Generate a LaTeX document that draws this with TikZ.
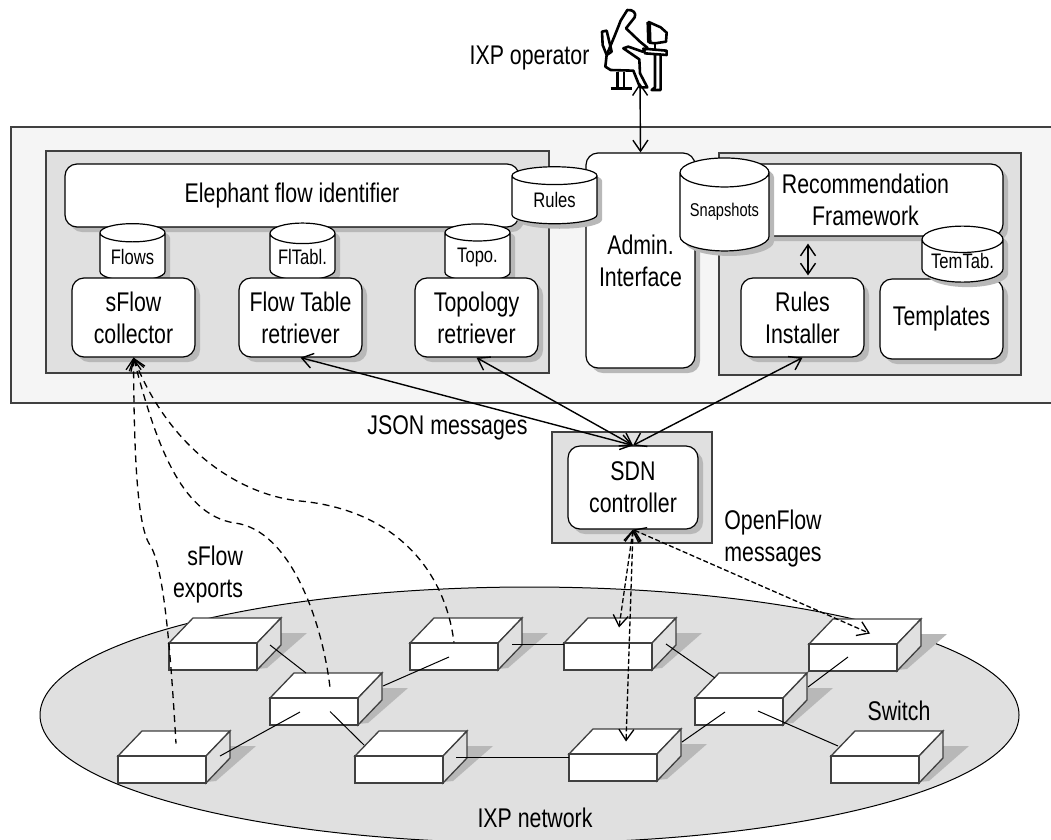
\documentclass[tikz,border=0pt]{standalone}
\usepackage{fontspec}
\setmainfont[FakeStretch=0.79]{Liberation Sans}
\usetikzlibrary{calc}
\usetikzlibrary{positioning,arrows.meta}
\usetikzlibrary{shapes.geometric,shadows}
\definecolor{panelgray}{HTML}{E0E0E0}
\definecolor{outergray}{HTML}{F5F5F5}
\definecolor{shadowgray}{HTML}{B8B8B8}
\definecolor{edgegray}{HTML}{404040}
\tikzset{
  lab/.style = {font=\fontsize{27}{32}\selectfont,align=center,inner sep=0pt},
  panel/.style = {draw=edgegray,fill=panelgray,line width=1.2pt,minimum width=#1},
  mod/.style = {draw=black,fill=white,line width=1.2pt,rounded corners=12pt,
    drop shadow={shadow xshift=5pt,shadow yshift=-5pt,fill=shadowgray,opacity=1}},
  db/.style = {cylinder,shape border rotate=90,draw=black,fill=white,line width=1.2pt,
    inner sep=0pt,font=\fontsize{21}{24}\selectfont,
    drop shadow={shadow xshift=5pt,shadow yshift=-5pt,fill=shadowgray,opacity=1}},
  front/.style = {draw=edgegray,fill=white,line width=1.3pt,minimum width=88pt,minimum height=27pt,inner sep=0pt},
  link/.style = {line width=1pt},
  bar/.style = {line width=1.4pt,{Straight Barb[length=11pt,width=15pt]}-{Straight Barb[length=11pt,width=15pt]}},
  sf/.style = {line width=1.3pt,dash pattern=on 7pt off 5pt,{Straight Barb[length=11pt,width=15pt]}-},
  of/.style = {line width=1.3pt,dash pattern=on 5pt off 2.5pt,{Straight Barb[length=11pt,width=15pt]}-{Straight Barb[length=11pt,width=15pt]}}
}
\begin{document}
\begin{tikzpicture}[x=1pt,y=-1pt]
\useasboundingbox (0,0) rectangle (1051,839);
\clip (0,0) rectangle (1051,839);
% outer frame and panels
\node[draw=edgegray,fill=outergray,line width=1.2pt,minimum width=1060pt,minimum height=276pt,inner sep=0pt] (Frame) at (541,265) {};
\node[panel=503pt,minimum height=222pt,inner sep=0pt] (Left) at (297.5,262) {};
\node[panel=302pt,minimum height=222pt,inner sep=0pt] (Right) at (870,264) {};
% elephant flow part
\node[mod,minimum width=454pt,minimum height=63pt,inner sep=0pt,lab] (Elef) at (292,195.5) {Elephant flow identifier};
\node[db,minimum width=65pt,minimum height=57pt,aspect=.42] (Flows) at (132.5,257) {Flows};
\node[db,minimum width=65pt,minimum height=57pt,aspect=.42] (FlTabl) at (302.5,257) {FlTabl.};
\node[db,minimum width=65pt,minimum height=57pt,aspect=.42] (Topo) at (477.5,257) {Topo.};
\node[mod,minimum width=123pt,minimum height=79pt,inner sep=0pt,lab] (Coll) at (133.5,317.5) {sFlow\\collector};
\node[mod,minimum width=123pt,minimum height=79pt,inner sep=0pt,lab] (FlowRet) at (300.5,317.5) {Flow Table\\retriever};
\node[mod,minimum width=123pt,minimum height=79pt,inner sep=0pt,lab] (TopoRet) at (476.5,317.5) {Topology\\retriever};
% admin and recommendation part
\node[mod,minimum width=109pt,minimum height=215pt,inner sep=0pt,lab] (Admin) at (640.5,260.5) {Admin.\\Interface};
\node[db,minimum width=85pt,minimum height=57pt,aspect=.42] (Rules) at (554.5,200) {Rules};
\node[mod,minimum width=263pt,minimum height=72pt,inner sep=0pt,lab,text width=240pt] (Recom) at (871.5,200) {\hspace*{-12pt}Recommendation\\\hspace*{-12pt}Framework};
\node[db,minimum width=89pt,minimum height=93pt,aspect=.42,font=\fontsize{18.5}{20}\selectfont] (Snap) at (724.5,212) {Snapshots};
\node[mod,minimum width=123pt,minimum height=79pt,inner sep=0pt,lab] (Inst) at (802.5,317.5) {Rules\\Installer};
\node[mod,minimum width=123pt,minimum height=80pt,inner sep=0pt,lab] (Templ) at (941.5,319) {Templates};
\node[db,minimum width=81pt,minimum height=56pt,aspect=.42] (TemTab) at (962.5,261) {TemTab.};
\draw[bar] ($(Recom.south)+(-63.5,7)$) -- ($(Inst.north)+(5.5,-2)$);
% controller
\node[panel=160pt,minimum height=111pt,inner sep=0pt] (Ctrl) at (632,487.5) {};
\node[mod,minimum width=130pt,minimum height=83pt,inner sep=0pt,lab] (SDN) at (633,487.5) {SDN\\controller};
% network
\node[ellipse,draw=black,fill=panelgray,line width=1pt,minimum width=979pt,minimum height=256pt,inner sep=0pt] (Net) at (529.5,715) {};
\foreach \nm/\px/\py in {SwA/169/643,SwB/270/698,SwC/410/643,SwD/118/756,SwE/355/756,SwF/564/643,SwG/695/698,SwH/569/754,SwI/809/644,SwJ/831/756}{
  \fill[shadowgray] (\px+112,\py-10) -- (\px+138,\py-10) -- (\px+98,\py+25) -- (\px+88,\py+26) -- cycle;
  \draw[edgegray,fill=white,line width=1.3pt] (\px,\py) -- (\px+24,\py-25) -- (\px+112,\py-25) -- (\px+88,\py) -- cycle;
  \draw[edgegray,fill=panelgray,line width=1.3pt] (\px+88,\py) -- (\px+112,\py-25) -- (\px+112,\py+2) -- (\px+88,\py+27) -- cycle;
  \node[front] (\nm) at (\px+44,\py+13.5) {};
}
\draw[link] ($(SwA)+(57,-11.5)$) -- ($(SwB)+(-8,-38.5)$);
\draw[link] ($(SwD)+(58,-13.5)$) -- ($(SwB)+(-14,.5)$);
\draw[link] ($(SwB)+(16,0)$) -- ($(SwE)+(-35,-24.5)$);
\draw[link] ($(SwB)+(69,-25.5)$) -- ($(SwC)+(-5,.5)$);
\draw[link] ($(SwC)+(58,-12)$) -- ($(SwF)+(-44,-12)$);
\draw[link] ($(SwE)+(57,-12)$) -- ($(SwH)+(-44,-10)$);
\draw[link] ($(SwF)+(58,-12.5)$) -- ($(SwG)+(-24,-33.5)$);
\draw[link] ($(SwH)+(69,-25.5)$) -- ($(SwG)+(-14,.5)$);
\draw[link] ($(SwG)+(19,-.5)$) -- ($(SwJ)+(-37,-23.5)$);
\draw[link] ($(SwG)+(69,-24.5)$) -- ($(SwI)+(-5,-.5)$);
% operator figure
\begin{scope}[shift={(540,0)},x=.3333pt,y=-.3333pt,line width=2.6pt,line join=round]
\draw (262,30) .. controls (280,28) and (290,40) .. (284,52) -- (258,85) -- (300,125) -- (322,143) -- (308,155) -- (265,140) -- (250,145) -- (298,178) -- (300,220) -- (322,262) -- (300,262) -- (280,212) -- (212,210) -- (196,200) -- (200,165) -- (225,105) -- (242,62) -- cycle;
\draw (200,165) -- (215,155) -- (200,92) -- (186,95) -- (188,135) -- (200,165);
\draw (232,215) -- (232,262) (252,215) -- (252,262) (212,266) -- (275,266);
\draw (326,66) -- (362,82) -- (380,98) -- (378,125) -- (345,130) -- (328,128) -- cycle;
\draw[line width=4.5pt] (326,66) -- (328,128);
\draw (345,130) -- (345,146);
\draw (310,146) -- (380,152) -- (380,165) -- (315,160) -- cycle;
\draw (345,165) -- (345,262) -- (335,270) -- (362,270) -- (362,165);
\end{scope}
\node[minimum width=66pt,minimum height=73pt,inner sep=0pt] (Oper) at (640,46.5) {};
% connectors
\draw[bar] (Oper.south) -- (Admin.north);
\draw[bar] (FlowRet.south) -- (SDN.north);
\draw[bar] (TopoRet.south) -- (SDN.north);
\draw[bar] (Inst.south) -- (SDN.north);
\draw[sf] (Coll.south) .. controls (134,440) and (136,525) .. (150,545) .. controls (163,565) and (170,640) .. ($(SwD)+(14,-26)$);
\draw[sf] (Coll.south) .. controls (155,440) and (180,515) .. (235,523) .. controls (290,530) and (322,620) .. ($(SwB)+(16,-24)$);
\draw[sf] (Coll.south) .. controls (170,450) and (240,495) .. (300,501) .. controls (395,510) and (445,570) .. ($(SwC)+(0,-14)$);
\draw[of] (SDN.south) -- ($(SwF)+(11,-29)$);
\draw[of] (SDN.south) -- ($(SwH)+(13,-26)$);
\draw[of] (SDN.south) -- ($(SwI)+(17,-24)$);
% labels
\node[lab] (Operlab) at (529.5,58) {IXP operator};
\node[lab] (Json) at (447.5,428) {JSON messages};
\node[lab] (Oflab) at (773,539) {OpenFlow\\messages};
\node[lab,align=right] (Sflab) at (208,574.5) {sFlow\\exports};
\node[lab] (Swlab) at (899,711) {Switch};
\node[lab] (Netlab) at (535,818) {IXP network};
\end{tikzpicture}
\end{document}
